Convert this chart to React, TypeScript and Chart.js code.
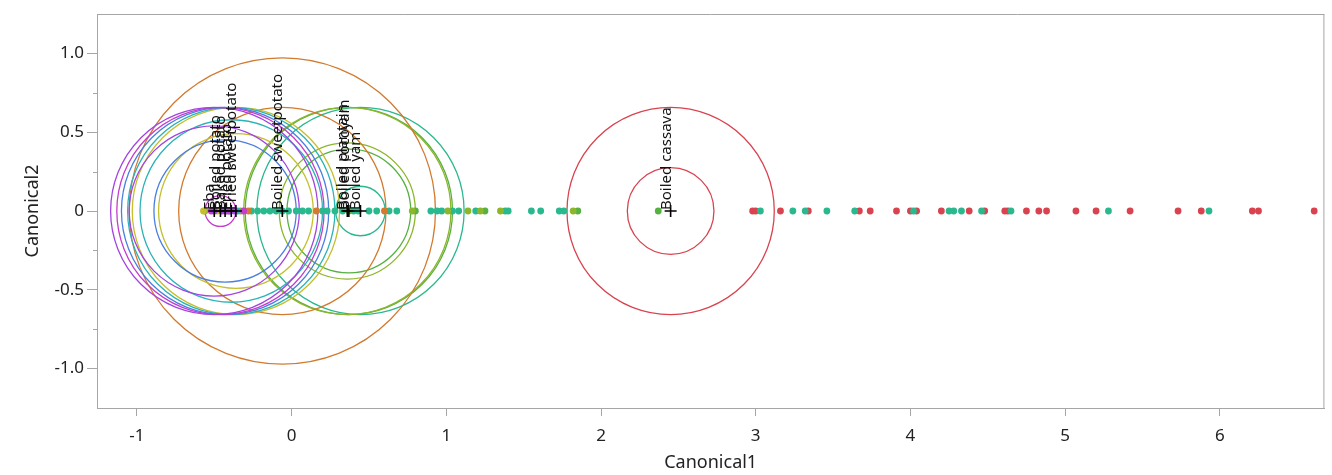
import React, { useEffect, useRef } from "react";
import { Chart, registerables } from "chart.js";
Chart.register(...registerables);

// ---- data ----
const xTicks = [-1, 0, 1, 2, 3, 4, 5, 6];
const yTicks = [-1, -0.5, 0, 0.5, 1];
const yMinorTicks = [-0.75, -0.25, 0.25, 0.75];

const groupNames = [
  "Eba",
  "Boiled potato",
  "Baked potato",
  "Fried potato",
  "Fried sweetpotato",
  "Boiled sweetpotato",
  "Boiled plantain",
  "Boiled cocoyam",
  "Boiled yam",
  "Boiled cassava",
];
const groupColors = [
  "#a443e0",
  "#c43dcc",
  "#4a7fe0",
  "#2bb3b8",
  "#c5bf2e",
  "#d27a2e",
  "#8db62a",
  "#56b042",
  "#2ab88e",
  "#d9434f",
];
const meanCanonical1 = [-0.5, -0.46, -0.43, -0.39, -0.36, -0.06, 0.36, 0.37, 0.445, 2.45];
const meanCanonical2 = [0, 0, 0, 0, 0, 0, 0, 0, 0, 0];
const contourRadius = [0.67, 0.67, 0.67, 0.67, 0.67, 0.67, 0.67, 0.67, 0.67, 0.67];
const meanCIRadius = [0.55, 0.1, 0.46, 0.59, 0.5, 0.99, 0.44, 0.4, 0.16, 0.28];

const obsEba = [-0.5, -0.43, -0.37];
const obsBoiledPotato = [-0.52, -0.45, -0.41, -0.31];
const obsBakedPotato = [-0.4];
const obsFriedPotato = [-0.35];
const obsFriedSweetpotato = [-0.57, -0.48, -0.42];
const obsBoiledSweetpotato = [-0.28, 0.16, 0.6];
const obsBoiledPlantain = [-0.56, -0.33, 0.78, 1.01, 1.14, 1.22, 1.35, 1.82];
const obsBoiledCocoyam = [0.37, 0.8, 1.25, 1.85, 2.37];
const obsBoiledYam = [
  -0.26, -0.22, -0.18, -0.14, -0.1, -0.06, -0.02, 0.03, 0.07, 0.11, 0.2, 0.23, 0.28, 0.33,
  0.4, 0.43, 0.5, 0.55, 0.63, 0.68, 0.9, 0.94, 0.97, 1.04, 1.08, 1.19, 1.38, 1.4, 1.55,
  1.61, 1.73, 1.76, 3.03, 3.24, 3.32, 3.46, 3.64, 4.02, 4.25, 4.28, 4.33, 4.46, 4.65,
  5.28, 5.93,
];
const obsBoiledCassava = [
  2.98, 3.0, 3.16, 3.34, 3.67, 3.74, 3.91, 4.0, 4.04, 4.2, 4.38, 4.48, 4.61, 4.63, 4.75,
  4.83, 4.88, 5.07, 5.2, 5.42, 5.73, 5.88, 6.21, 6.25, 6.61,
];
const observations = [
  obsEba,
  obsBoiledPotato,
  obsBakedPotato,
  obsFriedPotato,
  obsFriedSweetpotato,
  obsBoiledSweetpotato,
  obsBoiledPlantain,
  obsBoiledCocoyam,
  obsBoiledYam,
  obsBoiledCassava,
];
const observedCanonical2 = 0;

const FONT = '"Noto Sans", "Open Sans", sans-serif';
const AXIS_GRAY = "#a6a6a6";

export default function App() {
  const ref = useRef<HTMLCanvasElement>(null);

  useEffect(() => {
    document.body.style.margin = "0";
    const canvas = ref.current;
    if (!canvas) return;

    const radiusPx = (ctx: any) => {
      const s = ctx.chart.scales.x;
      const r = ctx.raw && ctx.raw.r ? ctx.raw.r : 0;
      return Math.abs(s.getPixelForValue(r) - s.getPixelForValue(0));
    };

    const datasets: any[] = [];
    // group mean markers
    datasets.push({
      label: "means",
      data: meanCanonical1.map((x, i) => ({ x, y: meanCanonical2[i] })),
      pointStyle: "cross",
      pointRadius: 6,
      pointBorderWidth: 1.6,
      pointBorderColor: "#000",
      pointBackgroundColor: "#000",
      showLine: false,
      order: 0,
    });
    // observations
    observations.forEach((arr, g) => {
      datasets.push({
        label: groupNames[g] + " obs",
        data: arr.map((x) => ({ x, y: observedCanonical2 })),
        pointRadius: 3.4,
        pointBorderWidth: 0,
        pointBackgroundColor: groupColors[g],
        pointBorderColor: groupColors[g],
        showLine: false,
        order: 1,
      });
    });
    // circles (50% contours and mean confidence circles)
    groupNames.forEach((name, g) => {
      datasets.push({
        label: name + " circles",
        data: [
          { x: meanCanonical1[g], y: meanCanonical2[g], r: contourRadius[g] },
          { x: meanCanonical1[g], y: meanCanonical2[g], r: meanCIRadius[g] },
        ],
        pointRadius: radiusPx,
        pointHoverRadius: radiusPx,
        pointBorderWidth: 1.3,
        pointBorderColor: groupColors[g],
        pointBackgroundColor: "rgba(0,0,0,0)",
        showLine: false,
        order: 2,
      });
    });

    const framePlugin = {
      id: "frame",
      afterDraw(chart: any) {
        const { ctx, chartArea } = chart;
        const y = chart.scales.y;
        ctx.save();
        ctx.strokeStyle = AXIS_GRAY;
        ctx.lineWidth = 1;
        ctx.beginPath();
        ctx.moveTo(chartArea.left, chartArea.top + 0.5);
        ctx.lineTo(chartArea.right, chartArea.top + 0.5);
        ctx.moveTo(chartArea.right - 0.5, chartArea.top);
        ctx.lineTo(chartArea.right - 0.5, chartArea.bottom);
        yMinorTicks.forEach((v) => {
          const py = Math.round(y.getPixelForValue(v)) + 0.5;
          ctx.moveTo(chartArea.left - 4, py);
          ctx.lineTo(chartArea.left, py);
        });
        ctx.stroke();
        ctx.restore();
      },
    };

    const labelPlugin = {
      id: "groupLabels",
      afterDatasetsDraw(chart: any) {
        const { ctx } = chart;
        const xs = chart.scales.x;
        const ys = chart.scales.y;
        ctx.save();
        ctx.font = `15px ${FONT}`;
        ctx.fillStyle = "#111";
        ctx.textAlign = "left";
        ctx.textBaseline = "alphabetic";
        groupNames.forEach((name, g) => {
          const px = xs.getPixelForValue(meanCanonical1[g]);
          const py = ys.getPixelForValue(meanCanonical2[g]);
          ctx.save();
          ctx.translate(px, py - 1);
          ctx.rotate(-Math.PI / 2);
          ctx.fillText(name, 0, 0);
          ctx.restore();
        });
        ctx.restore();
      },
    };

    const chart = new Chart(canvas, {
      type: "scatter",
      data: { datasets },
      options: {
        responsive: false,
        animation: false,
        devicePixelRatio: 1,
        layout: { padding: { top: 14, right: 2, left: 0, bottom: 0 } },
        plugins: { legend: { display: false }, tooltip: { enabled: false } },
        events: [],
        scales: {
          x: {
            type: "linear",
            min: -1.258,
            max: 6.676,
            afterBuildTicks: (s: any) => {
              s.ticks = xTicks.map((v) => ({ value: v }));
            },
            afterFit: (s: any) => {
              s.height = 67;
            },
            ticks: {
              font: { family: FONT, size: 17 },
              color: "#222",
              padding: 10,
              maxRotation: 0,
              callback: (v: any) => String(v),
            },
            grid: {
              drawOnChartArea: false,
              drawTicks: true,
              tickLength: 8,
              tickColor: AXIS_GRAY,
              color: AXIS_GRAY,
            },
            border: { display: true, color: AXIS_GRAY },
            title: {
              display: true,
              text: "Canonical1",
              font: { family: FONT, size: 18 },
              color: "#222",
              padding: { top: 0, bottom: 1 },
            },
          },
          y: {
            type: "linear",
            min: -1.25,
            max: 1.25,
            afterBuildTicks: (s: any) => {
              s.ticks = yTicks.map((v) => ({ value: v }));
            },
            afterFit: (s: any) => {
              s.width = 97;
            },
            ticks: {
              font: { family: FONT, size: 17 },
              color: "#222",
              padding: 3,
              callback: (v: any) => (v === 0 ? "0" : Number(v).toFixed(1)),
            },
            grid: {
              drawOnChartArea: false,
              drawTicks: true,
              tickLength: 10,
              tickColor: AXIS_GRAY,
              color: AXIS_GRAY,
            },
            border: { display: true, color: AXIS_GRAY },
            title: {
              display: true,
              text: "Canonical2",
              font: { family: FONT, size: 18 },
              color: "#222",
              padding: { top: 22, bottom: 0 },
            },
          },
        },
      },
      plugins: [framePlugin, labelPlugin],
    } as any);

    return () => chart.destroy();
  }, []);

  return (
    <div style={{ width: 1332, height: 475 }}>
      <canvas ref={ref} width={1332} height={475} style={{ display: "block" }} />
    </div>
  );
}
